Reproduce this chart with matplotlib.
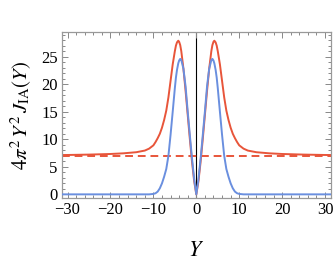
import numpy as np
import matplotlib
matplotlib.use("Agg")
import matplotlib.pyplot as plt
from matplotlib.ticker import MultipleLocator

# Values (symmetric in Y)
y_pos = [0, 0.5, 1, 1.5, 2, 2.5, 3, 3.5, 3.75, 4, 4.2, 4.5, 4.75, 5, 5.5, 6,
         6.5, 7, 7.5, 8, 8.5, 9, 9.5, 10, 11, 12, 14, 17, 20, 25, 30, 31.5]
red_vals = [0, 2.4, 5.9, 10.0, 14.4, 18.8, 22.8, 26.0, 27.1, 27.7, 27.9,
            27.6, 27.0, 26.0, 23.6, 20.6, 17.6, 15.2, 13.5, 12.1, 11.0, 10.2,
            9.5, 8.9, 8.3, 7.95, 7.65, 7.45, 7.33, 7.22, 7.15, 7.14]
blue_vals = [0, 2.8, 6.5, 10.7, 15.0, 19.6, 22.8, 24.4, 24.6, 24.3, 23.8,
             22.6, 21.2, 19.3, 15.0, 10.8, 7.0, 4.6, 3.2, 2.0, 1.1, 0.5, 0.2,
             0.08, 0.0, 0.0, 0.0, 0.0, 0.0, 0.0, 0.0, 0.0]
asymptote = 7.0

x_ticks = [-30, -20, -10, 0, 10, 20, 30]
y_ticks = [0, 5, 10, 15, 20, 25]

Y = np.array(y_pos)
Yfull = np.concatenate([-Y[::-1], Y[1:]])
red = np.array(red_vals)
blue = np.array(blue_vals)
red_full = np.concatenate([red[::-1], red[1:]])
blue_full = np.concatenate([blue[::-1], blue[1:]])

plt.rcParams['font.family'] = ['Liberation Serif', 'DejaVu Serif']
plt.rcParams['mathtext.fontset'] = 'stix'

fig = plt.figure(figsize=(3.35, 2.68), dpi=100)
ax = fig.add_axes([0.185, 0.260, 0.802, 0.619])

red_c = '#E8553A'
blue_c = '#6A8FDF'

ax.axvline(0, color='black', lw=0.8, zorder=1)
ax.plot(Yfull, blue_full, color=blue_c, lw=1.4, zorder=3)
ax.plot(Yfull, red_full, color=red_c, lw=1.4, zorder=2)
ax.axhline(asymptote, color=red_c, lw=1.4, ls=(0, (4, 2.5)), zorder=2)

ax.set_xlim(-31.3, 31.3)
ax.set_ylim(-0.72, 29.4)
ax.set_xticks(x_ticks)
ax.set_xticklabels([('\u2212' + str(-t)) if t < 0 else str(t) for t in x_ticks])
ax.set_yticks(y_ticks)
ax.xaxis.set_minor_locator(MultipleLocator(2))
ax.yaxis.set_minor_locator(MultipleLocator(1))
ax.tick_params(which='both', direction='in', top=True, right=True,
               color='#888888', labelsize=12, width=0.7)
ax.tick_params(which='major', length=4, pad=3)
ax.tick_params(which='minor', length=2)
for s in ax.spines.values():
    s.set_color('#999999')
    s.set_linewidth(0.9)

ax.set_xlabel(r'$Y$', fontsize=16, labelpad=17)
ax.set_ylabel(r'$4\pi^2\,Y^2\,J_{\mathrm{IA}}(Y)$', fontsize=15, labelpad=5)

fig.savefig('out.png', dpi=100)
